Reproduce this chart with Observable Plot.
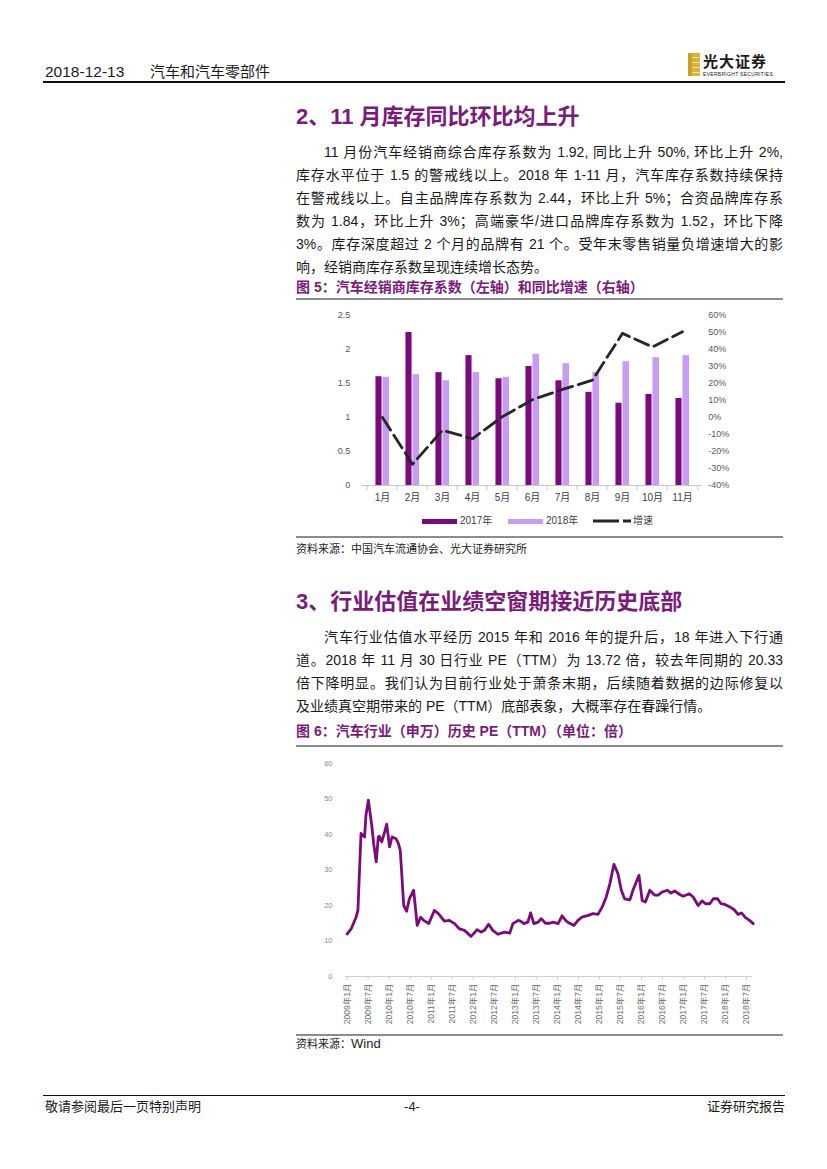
<!DOCTYPE html>
<html><head><meta charset="utf-8">
<script src="https://cdn.jsdelivr.net/npm/d3@7"></script>
<script src="https://cdn.jsdelivr.net/npm/@observablehq/plot@0.6"></script>
<style>
body{margin:0;background:#fff;}
#page{position:relative;width:827px;height:1169px;overflow:hidden;font-family:"Liberation Sans","Noto Sans CJK SC",sans-serif;color:#1a1a1a;background:#fff;}
.abs{position:absolute;}
.ln{position:absolute;left:296px;width:487px;font-size:14px;line-height:16px;white-space:nowrap;text-align:justify;text-align-last:justify;}
.ln.last{text-align-last:left;}
.ln.ind{padding-left:28px;width:459px;}
.h2{position:absolute;left:296px;font-size:22px;font-weight:bold;color:#7b1a7b;line-height:24px;white-space:nowrap;}
.cap{position:absolute;left:296px;font-size:14px;font-weight:bold;color:#7b1a7b;line-height:16px;white-space:nowrap;}
.rule{position:absolute;left:296px;width:487px;height:2px;background:#8c8c8c;}
.src{position:absolute;left:296px;font-size:11px;line-height:12px;color:#222;white-space:nowrap;}
.chart{position:absolute;left:296px;}
.lg{position:absolute;top:515px;font-size:10px;line-height:12px;color:#404040;display:flex;align-items:center;white-space:nowrap;}
</style></head>
<body>
<div id="page">
  <!-- header -->
  <div class="abs" style="left:45px;top:63px;font-size:15.5px;line-height:18px;white-space:nowrap;">2018-12-13</div>
  <div class="abs" style="left:150px;top:63px;font-size:15px;line-height:18px;white-space:nowrap;">汽车和汽车零部件</div>
  <div class="abs" style="left:43px;top:81px;width:742px;height:1.5px;background:#111;"></div>
  <div class="abs" style="left:688px;top:53px;width:12px;height:23px;background:repeating-linear-gradient(180deg,#d9b23c 0 4px,#f3e3a8 4px 5px);"></div>
  <div class="abs" style="left:688px;top:53px;width:4px;height:23px;background:#c9a02a;"></div>
  <div class="abs" style="left:703px;top:52px;font-size:15px;font-weight:bold;line-height:17px;letter-spacing:1px;white-space:nowrap;font-family:'Noto Sans CJK SC',sans-serif;">光大证券</div>
  <div class="abs" style="left:703px;top:71px;font-size:5px;line-height:6px;white-space:nowrap;letter-spacing:0.3px;">EVERBRIGHT SECURITIES</div>

  <!-- section 2 -->
  <div class="h2" style="top:105px;">2、11 月库存同比环比均上升</div>
  <div class="ln ind" style="top:144px;">11 月份汽车经销商综合库存系数为 1.92, 同比上升 50%, 环比上升 2%,</div>
  <div class="ln" style="top:167px;">库存水平位于 1.5 的警戒线以上。2018 年 1-11 月，汽车库存系数持续保持</div>
  <div class="ln" style="top:190px;">在警戒线以上。自主品牌库存系数为 2.44，环比上升 5%；合资品牌库存系</div>
  <div class="ln" style="top:213px;">数为 1.84，环比上升 3%；高端豪华/进口品牌库存系数为 1.52，环比下降</div>
  <div class="ln" style="top:236px;">3%。库存深度超过 2 个月的品牌有 21 个。受年末零售销量负增速增大的影</div>
  <div class="ln last" style="top:259px;">响，经销商库存系数呈现连续增长态势。</div>
  <div class="cap" style="top:279px;">图 5：汽车经销商库存系数（左轴）和同比增速（右轴）</div>
  <div class="rule" style="top:298px;"></div>
  <div class="chart" id="c1" style="top:301px;"></div>
  <div id="legend1"></div>
  <div class="rule" style="top:536px;"></div>
  <div class="src" style="top:543px;">资料来源：中国汽车流通协会、光大证券研究所</div>

  <!-- section 3 -->
  <div class="h2" style="top:590px;">3、行业估值在业绩空窗期接近历史底部</div>
  <div class="ln ind" style="top:629px;">汽车行业估值水平经历 2015 年和 2016 年的提升后，18 年进入下行通</div>
  <div class="ln" style="top:652px;">道。2018 年 11 月 30 日行业 PE（TTM）为 13.72 倍，较去年同期的 20.33</div>
  <div class="ln" style="top:675px;">倍下降明显。我们认为目前行业处于萧条末期，后续随着数据的边际修复以</div>
  <div class="ln last" style="top:698px;">及业绩真空期带来的 PE（TTM）底部表象，大概率存在春躁行情。</div>
  <div class="cap" style="top:723px;">图 6：汽车行业（申万）历史 PE（TTM）（单位：倍）</div>
  <div class="rule" style="top:745px;"></div>
  <div class="chart" id="c2" style="top:750px;"></div>
  <div class="rule" style="top:1034px;"></div>
  <div class="src" style="top:1038px;">资料来源：<span style="font-size:13px;">Wind</span></div>

  <!-- footer -->
  <div class="abs" style="left:43px;top:1095px;width:742px;height:1px;background:#111;"></div>
  <div class="abs" style="left:45px;top:1099px;font-size:13px;line-height:15px;white-space:nowrap;">敬请参阅最后一页特别声明</div>
  <div class="abs" style="left:400px;top:1099px;width:24px;text-align:center;font-size:13px;line-height:15px;">-4-</div>
  <div class="abs" style="left:685px;top:1099px;width:100px;text-align:right;font-size:13px;line-height:15px;white-space:nowrap;">证券研究报告</div>
</div>
<script>
// ---------- Chart 1 data ----------
const months = ["1月","2月","3月","4月","5月","6月","7月","8月","9月","10月","11月"];
const stock2017 = [1.60, 2.25, 1.66, 1.91, 1.57, 1.75, 1.54, 1.37, 1.21, 1.34, 1.28];
const stock2018 = [1.59, 1.63, 1.54, 1.66, 1.59, 1.93, 1.79, 1.66, 1.82, 1.88, 1.91];
const growth = [0, -27.5, -7.5, -12.5, 0.5, 10.5, 16.5, 22, 49.5, 41.5, 50.5];
const leftTicks = [0, 0.5, 1, 1.5, 2, 2.5];
const rightTicks = [-40, -30, -20, -10, 0, 10, 20, 30, 40, 50, 60];
const seriesNames = ["2017年", "2018年", "增速"];

// ---------- Chart 2 data ----------
const peDates = ["2009-01-01","2009-02-04","2009-03-19","2009-04-04","2009-05-01","2009-05-16","2009-06-01","2009-06-13","2009-07-04","2009-08-04","2009-08-19","2009-09-10","2009-09-28","2009-10-07","2009-10-28","2009-11-22","2009-12-10","2010-01-04","2010-01-25","2010-03-01","2010-03-22","2010-04-07","2010-05-07","2010-06-01","2010-06-25","2010-08-01","2010-09-01","2010-10-01","2010-10-28","2010-12-10","2011-01-28","2011-03-04","2011-04-25","2011-06-07","2011-07-22","2011-09-04","2011-10-16","2011-12-13","2012-02-04","2012-03-10","2012-04-07","2012-05-13","2012-06-19","2012-08-01","2012-09-28","2012-11-13","2012-12-10","2013-01-25","2013-02-15","2013-03-16","2013-04-19","2013-05-13","2013-06-10","2013-07-16","2013-08-13","2013-09-19","2013-10-25","2013-11-25","2014-01-07","2014-02-10","2014-03-19","2014-04-16","2014-05-25","2014-06-28","2014-08-01","2014-09-25","2014-11-07","2014-12-19","2015-01-25","2015-03-01","2015-04-01","2015-05-07","2015-06-10","2015-07-10","2015-08-07","2015-09-22","2015-10-19","2015-12-10","2016-01-07","2016-02-04","2016-03-13","2016-04-25","2016-05-25","2016-06-28","2016-08-13","2016-09-13","2016-10-16","2016-11-28","2016-12-28","2017-02-19","2017-03-25","2017-05-07","2017-06-10","2017-07-10","2017-08-16","2017-09-16","2017-10-22","2017-11-22","2017-12-25","2018-02-07","2018-03-16","2018-04-19","2018-05-19","2018-06-22","2018-07-28","2018-08-28"];
const peValues = [12.0,13.4,16.7,18.6,40.3,39.8,39.3,45.4,49.7,42.1,37.4,32.3,39.3,39.5,37.9,40.7,42.9,36.5,39.3,38.8,37.4,35.5,20.0,18.4,21.9,24.3,14.4,16.7,15.8,14.9,18.6,17.7,15.6,15.8,14.9,13.4,13.0,11.3,13.2,12.5,13.0,14.7,13.0,11.9,12.5,12.2,14.9,15.8,15.6,14.9,15.3,17.9,14.9,15.3,16.3,15.0,15.0,15.3,14.9,17.1,15.6,15.0,14.4,15.8,16.7,17.2,17.7,17.5,19.6,22.4,26.1,31.6,29.0,24.3,21.9,21.6,24.3,28.5,21.4,21.0,24.3,22.9,22.9,23.8,24.3,23.5,24.1,23.1,22.6,23.3,22.4,20.0,21.3,20.5,20.5,21.9,21.9,20.5,20.3,19.6,18.8,17.5,17.9,16.6,15.8,14.9];
const peYTicks = [0, 10, 20, 30, 40, 50, 60];
const peXTicks = ["2009-01","2009-07","2010-01","2010-07","2011-01","2011-07","2012-01","2012-07","2013-01","2013-07","2014-01","2014-07","2015-01","2015-07","2016-01","2016-07","2017-01","2017-07","2018-01","2018-07"];

const c2017 = "#7b0b7d", c2018 = "#c79cf3", cGrowth = "#262626", cPE = "#7b0a7b";
const FONT = "'Liberation Sans','Noto Sans CJK SC',sans-serif";

// ---------- Chart 1 ----------
const data1 = months.map((m, i) => ({month: m, a: stock2017[i], b: stock2018[i], g: growth[i]}));
const W1 = 487, H1 = 212, ML1 = 65.7, MR1 = 81.3, MT1 = 14, MB1 = 28;
const bw = (W1 - ML1 - MR1) / months.length;
const toLeft = g => (g + 40) / 40;
const chart1 = Plot.plot({
  width: W1, height: H1, marginLeft: ML1, marginRight: MR1, marginTop: MT1, marginBottom: MB1,
  style: {fontFamily: FONT, fontSize: "10px", color: "#595959", background: "transparent", overflow: "visible"},
  x: {domain: months, padding: 0, axis: null, label: null},
  y: {domain: [0, 2.5], axis: null, label: null},
  marks: [
    Plot.barY(data1, {x: "month", y: "a", fill: c2017, insetLeft: bw / 2 - 7, insetRight: bw / 2}),
    Plot.barY(data1, {x: "month", y: "b", fill: c2018, insetLeft: bw / 2, insetRight: bw / 2 - 7.5}),
    Plot.ruleY([0], {stroke: "#c8c8c8"}),
    Plot.ruleX(months, {x: d => d, dx: -bw / 2, stroke: "#c8c8c8", insetTop: H1 - MT1 - MB1, insetBottom: -5}),
    Plot.ruleX([months[months.length - 1]], {x: d => d, dx: bw / 2, stroke: "#c8c8c8", insetTop: H1 - MT1 - MB1, insetBottom: -5}),
    Plot.line(data1, {x: "month", y: d => toLeft(d.g), stroke: cGrowth, strokeWidth: 2.8, strokeDasharray: "15,6"}),
    Plot.axisX({tickSize: 0, tickPadding: 8, fontSize: 10, fill: "#404040"}),
    Plot.axisY({ticks: leftTicks, tickSize: 0, tickPadding: 12, tickFormat: d => String(d), fontSize: 9, fill: "#595959"}),
    Plot.axisY({anchor: "right", ticks: rightTicks.map(toLeft), tickSize: 0, tickPadding: 6, tickFormat: v => Math.round(v * 40 - 40) + "%", fontSize: 9, fill: "#595959"})
  ]
});
document.getElementById("c1").appendChild(chart1);

// legend
const lg = document.getElementById("legend1");
const items = [
  {name: seriesNames[0], left: 422, sw: `<span style="display:inline-block;width:35px;height:5px;background:${c2017};margin-right:3px"></span>`},
  {name: seriesNames[1], left: 508, sw: `<span style="display:inline-block;width:35px;height:5px;background:${c2018};margin-right:3px"></span>`},
  {name: seriesNames[2], left: 593, sw: `<svg width="38" height="6" style="margin-right:2px"><line x1="0" y1="3" x2="38" y2="3" stroke="${cGrowth}" stroke-width="3" stroke-dasharray="26,4,8,0"/></svg>`}
];
lg.innerHTML = items.map(it => `<div class="lg" style="left:${it.left}px;">${it.sw}<span>${it.name}</span></div>`).join("");

// ---------- Chart 2 ----------
const pe = peDates.map((d, i) => ({date: new Date(d), v: peValues[i]}));
const W2 = 487, H2 = 283;
const chart2 = Plot.plot({
  width: W2, height: H2, marginLeft: 49, marginRight: 31, marginTop: 13, marginBottom: 57,
  style: {fontFamily: FONT, fontSize: "8px", color: "#7f7f7f", background: "transparent", overflow: "visible"},
  x: {type: "utc", domain: [new Date("2009-01-01"), new Date("2018-07-01")], range: [50.7, 450], axis: null, label: null},
  y: {domain: [0, 60], axis: null, label: null},
  marks: [
    Plot.ruleY([0], {stroke: "#d0d0d0"}),
    Plot.axisY({ticks: peYTicks, tickSize: 0, tickPadding: 13, fontSize: 7.5, fill: "#8a8a8a"}),
    Plot.axisX({ticks: peXTicks.map(s => new Date(s + "-01")), tickSize: 4, tickPadding: 3, tickRotate: -90, stroke: "#d0d0d0",
      tickFormat: d => `${d.getUTCFullYear()}年${d.getUTCMonth() + 1}月`, fontSize: 8.5, fill: "#6f6f6f"}),
    Plot.line(pe, {x: "date", y: "v", stroke: cPE, strokeWidth: 2.8, strokeLinejoin: "round"})
  ]
});
document.getElementById("c2").appendChild(chart2);
</script>
</body></html>
